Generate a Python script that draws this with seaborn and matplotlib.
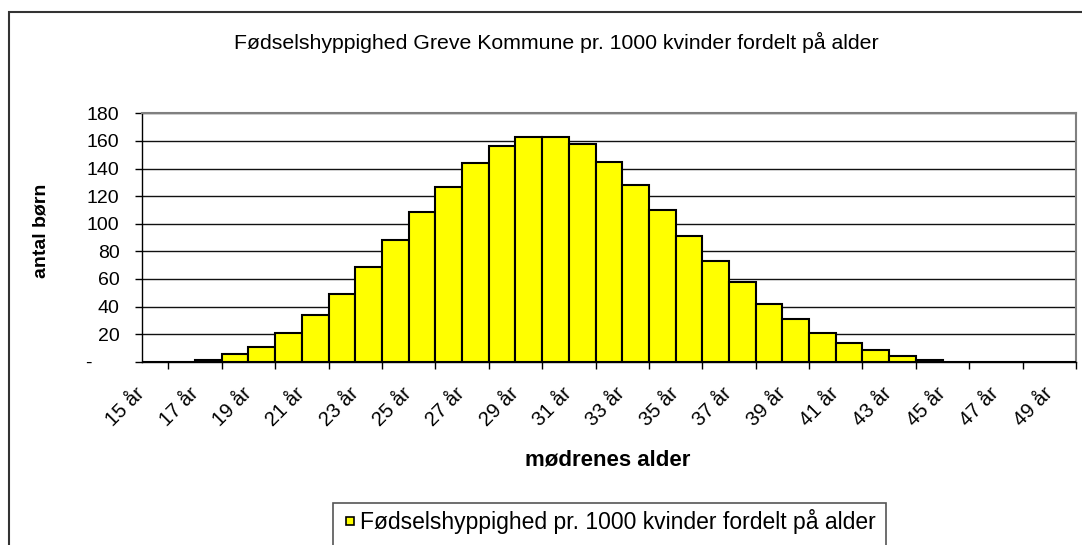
import matplotlib
matplotlib.use("Agg")
import matplotlib.pyplot as plt
import seaborn as sns
import pandas as pd
from matplotlib.patches import Rectangle
from matplotlib.lines import Line2D

# ---- data ----
ages = [f"{a} år" for a in range(15, 50)]
births = [0, 0, 1.2, 5.3, 10.9, 21.0, 33.6, 49.3, 68.9, 88.4, 108.2, 126.6,
          143.8, 156.3, 163.1, 163.1, 157.8, 145.0, 128.0, 110.0, 91.3, 73.2,
          57.5, 42.0, 30.9, 20.8, 13.8, 8.2, 3.9, 1.2, 0, 0, 0, 0, 0]
yticks = [0, 20, 40, 60, 80, 100, 120, 140, 160, 180]
yticklabels = ["-     ", "20", "40", "60", "80", "100", "120", "140", "160", "180"]
title = "Fødselshyppighed Greve Kommune pr. 1000 kvinder fordelt på alder"
xlabel = "mødrenes alder"
ylabel = "antal børn"
legend_label = "Fødselshyppighed pr. 1000 kvinder fordelt på alder"

df = pd.DataFrame({"alder": ages, "born": births})

sns.set_theme(style="white")
plt.rcParams["font.family"] = ["Liberation Sans", "DejaVu Sans"]
plt.rcParams["text.color"] = "black"

W, H = 1082, 545
fig = plt.figure(figsize=(W / 100, H / 100), dpi=100)
fig.patch.set_facecolor("white")

x0, x1, y0, y1 = 141.7, 1076, 113.3, 361.7
ax = fig.add_axes([x0 / W, 1 - y1 / H, (x1 - x0) / W, (y1 - y0) / H])

sns.barplot(data=df, x="alder", y="born", color="#FFFF00", edgecolor="black",
            linewidth=1.5, width=1.0, saturation=1, ax=ax, zorder=3)

ax.set_xlim(-0.5, len(ages) - 0.5)
ax.set_ylim(0, 180)
ax.set_yticks(yticks)
ax.set_yticklabels(yticklabels, fontsize=14, color="black")
ax.yaxis.grid(True, color="#111111", linewidth=1.0, zorder=0)
ax.set_axisbelow(True)

# x ticks: boundaries (minor) and labels every other category (major)
ax.set_xticks([i - 0.5 for i in range(len(ages) + 1)], minor=True)
ax.set_xticks([i - 0.5 for i in range(0, len(ages), 2)])
ax.set_xticklabels([ages[i] for i in range(0, len(ages), 2)], rotation=45,
                   ha="right", va="center", rotation_mode="anchor",
                   fontsize=14.5, color="black")
ax.tick_params(axis="x", which="major", length=0, pad=21)
ax.tick_params(axis="x", which="minor", length=5, width=1, color="black",
               direction="out", bottom=True)
ax.tick_params(axis="y", which="major", length=5, width=1, color="black",
               direction="out", left=True, pad=11)

for s in ["top", "right"]:
    ax.spines[s].set_color("#808080")
    ax.spines[s].set_linewidth(1.5)
ax.spines["left"].set_color("black")
ax.spines["bottom"].set_color("black")
ax.spines["left"].set_linewidth(1)
ax.spines["bottom"].set_linewidth(1)

ax.set_xlabel("")
ax.set_ylabel("")

fig.text(556 / W, 1 - 42 / H, title, ha="center", va="center", fontsize=15.3)
fig.text(41 / W, 1 - 231 / H, ylabel, ha="center", va="center", rotation=90,
         fontsize=14, fontweight="bold")
fig.text(608 / W, 1 - 460 / H, xlabel, ha="center", va="center",
         fontsize=16, fontweight="bold")

# figure border (chart cropped at right/bottom)
fig.patches.append(Rectangle((9 / W, -0.1), 1.2, 1 - 12 / H + 0.1,
                             transform=fig.transFigure, fill=False,
                             edgecolor="#333333", linewidth=1.5))
# legend box
fig.patches.append(Rectangle((333 / W, -0.05), (886 - 333) / W, 1 - 503 / H + 0.05,
                             transform=fig.transFigure, fill=False,
                             edgecolor="#555555", linewidth=1.2))
handle = Line2D([], [], marker="s", linestyle="none", markersize=6,
                markerfacecolor="#FFFF00", markeredgecolor="black",
                markeredgewidth=1.2)
fig.legend([handle], [legend_label], loc="center", frameon=False,
           bbox_to_anchor=(610 / W, 1 - 522 / H), fontsize=16.5,
           handletextpad=0.15, handlelength=0.5, borderaxespad=0)

fig.savefig("out.png", dpi=100, facecolor="white")
